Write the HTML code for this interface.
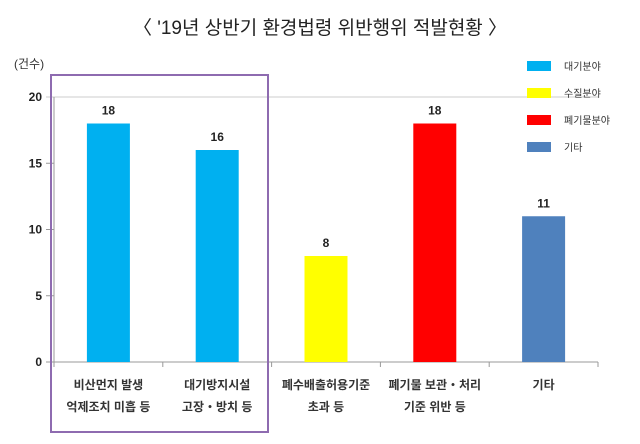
<!DOCTYPE html>
<html><head><meta charset="utf-8"><style>
body{margin:0;background:#fff;}
svg text{font-family:"Liberation Sans","Noto Sans CJK KR","NanumGothic",sans-serif;}
</style></head><body>
<svg width="640" height="439" viewBox="0 0 640 439">
<text x="320" y="34" text-anchor="middle" font-size="19" fill="#222">〈 '19년 상반기 환경법령 위반행위 적발현황 〉</text>
<text x="14" y="68" font-size="12" fill="#333">(건수)</text>
<g id="plot"></g>
<rect x="51" y="75" width="217" height="357" fill="none" stroke="#8e6bb0" stroke-width="2"/>
<g id="legend"></g>
</svg>
<script>
const categories=[["비산먼지 발생","억제조치 미흡 등"],["대기방지시설","고장・방치 등"],["폐수배출허용기준","초과 등"],["폐기물 보관・처리","기준 위반 등"],["기타"]];
const values=[18,16,8,18,11];
const colors=["#00b0f0","#00b0f0","#ffff00","#ff0000","#4f81bd"];
const ticks=[0,5,10,15,20];
const legendLabels=["대기분야","수질분야","폐기물분야","기타"];
const legendColors=["#00b0f0","#ffff00","#ff0000","#4f81bd"];
const NS="http://www.w3.org/2000/svg";
const x0=54,x1=598,y0=362,y1=97,ymax=20;
const bw=(x1-x0)/categories.length;
const ys=v=>y0-(v/ymax)*(y0-y1);
const xc=i=>x0+bw*(i+0.5);
const g=document.getElementById('plot');
function mk(t,a,p){const e=document.createElementNS(NS,t);for(const k in a)e.setAttribute(k,a[k]);(p||g).appendChild(e);return e;}
ticks.forEach(t=>{
 const l=mk('line',{x1:x0-8,x2:t===ymax?x1:x0,y1:ys(t),y2:ys(t),stroke:t===ymax?'#ccc':'#999'});
 
 
 const tx=mk('text',{x:x0-12,y:ys(t)+4,'text-anchor':'end','font-size':12,'font-weight':'bold',fill:'#222'});
 tx.textContent=t;
 
 
});
const ya=mk('line',{x1:x0,x2:x0,y1:y1,y2:y0,stroke:'#999'});


const xa=mk('line',{x1:x0,x2:x1,y1:y0,y2:y0,stroke:'#999'});


for(let i=0;i<=categories.length;i++){const tk=mk('line',{x1:x0+bw*i,x2:x0+bw*i,y1:y0,y2:y0+5,stroke:'#999'});
 
 }
values.forEach((v,i)=>{
 const r=mk('rect',{x:xc(i)-21.5,y:ys(v),width:43,height:y0-ys(v),fill:colors[i]});
 
 
 const t=mk('text',{x:xc(i),y:ys(v)-9,'text-anchor':'middle','font-size':12,'font-weight':'bold',fill:'#222'});
 t.textContent=v;
 
 
 categories[i].forEach((s,j)=>{
  const c=mk('text',{x:xc(i),y:389+j*22,'text-anchor':'middle','font-size':12,'font-weight':'bold',fill:'#333'});
  c.textContent=s;
  
  
 });
});
const lg=document.getElementById('legend');
legendLabels.forEach((s,i)=>{
 const y=61+i*27;
 const r=mk('rect',{x:527,y:y,width:24,height:10,fill:legendColors[i]},lg);
 
 
 const t=mk('text',{x:564,y:y+9,'font-size':10,fill:'#333'},lg);
 t.textContent=s;
 
 
});
</script>
</body></html>
